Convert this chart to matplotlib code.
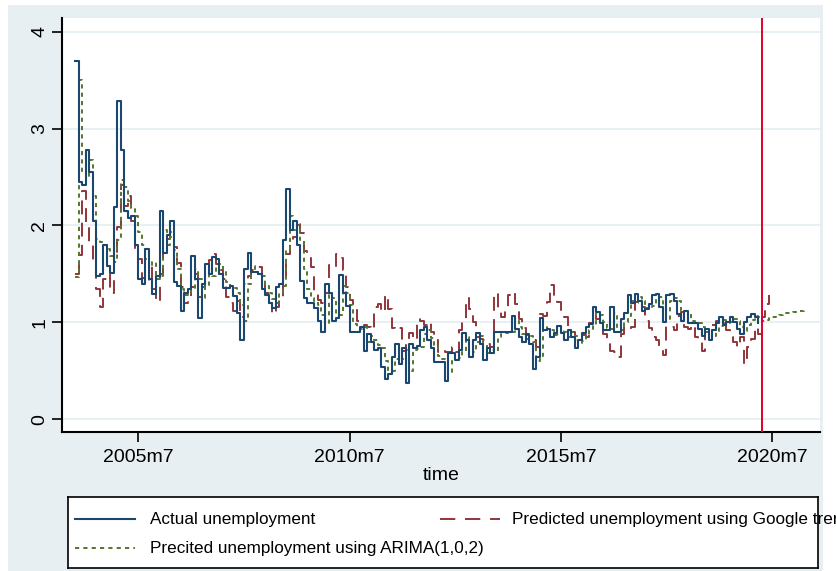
import numpy as np
import matplotlib.pyplot as plt
from matplotlib.patches import Rectangle
from matplotlib.lines import Line2D

plt.rcParams['font.family'] = ['Liberation Sans Narrow', 'Liberation Sans', 'DejaVu Sans']
plt.rcParams['lines.scale_dashes'] = False

# monthly series, first observation 2004m1
first_month = "2004m1"

actual = [
    3.70, 2.45, 2.42, 2.78, 2.55, 2.05, 1.48, 1.50, 1.80, 1.58, 1.51, 2.19,  # 2004
    3.28, 2.78, 2.15, 2.08, 2.10, 1.80, 1.45, 1.40, 1.76, 1.45, 1.29, 1.48,  # 2005
    2.15, 1.72, 1.90, 2.05, 1.42, 1.38, 1.12, 1.30, 1.35, 1.69, 1.45, 1.05,  # 2006
    1.40, 1.60, 1.50, 1.67, 1.65, 1.50, 1.36, 1.36, 1.38, 1.27, 1.10, 0.82,  # 2007
    1.55, 1.72, 1.52, 1.52, 1.50, 1.35, 1.28, 1.20, 1.15, 1.37, 1.40, 1.85,  # 2008
    2.38, 1.95, 2.05, 1.80, 1.43, 1.25, 1.20, 1.20, 1.15, 1.02, 0.90, 1.40,  # 2009
    1.30, 1.02, 1.05, 1.49, 1.30, 1.17, 0.90, 0.90, 0.90, 0.95, 0.71, 0.88,  # 2010
    0.80, 0.72, 0.74, 0.54, 0.42, 0.47, 0.64, 0.78, 0.57, 0.74, 0.38, 0.78,  # 2011
    0.74, 0.76, 0.92, 0.95, 0.82, 0.74, 0.59, 0.59, 0.59, 0.40, 0.68, 0.68,  # 2012
    0.61, 0.72, 0.89, 0.82, 0.64, 0.82, 0.89, 0.78, 0.61, 0.74, 0.68, 0.90,  # 2013
    0.90, 0.90, 0.90, 0.90, 1.07, 0.93, 0.85, 0.80, 0.88, 0.78, 0.52, 0.64,  # 2014
    1.05, 0.92, 0.93, 0.85, 0.89, 0.96, 0.89, 0.82, 0.92, 0.85, 0.74, 0.82,  # 2015
    0.89, 0.95, 0.98, 1.16, 1.11, 0.99, 0.92, 0.92, 1.16, 0.90, 0.90, 1.04,  # 2016
    1.10, 1.28, 1.20, 1.29, 1.22, 1.12, 1.14, 1.19, 1.28, 1.29, 1.16, 1.00,  # 2017
    1.28, 1.29, 1.22, 1.09, 1.02, 1.12, 0.99, 0.99, 0.99, 0.93, 0.86, 0.93,  # 2018
    0.82, 0.92, 0.99, 1.06, 0.97, 1.00, 1.06, 1.00, 0.93, 0.88, 1.00, 1.06,  # 2019
    1.09, 1.06, 0.99,                                                      # 2020
]

google = [
    1.50, 1.70, 2.36, 2.00, 1.80, 1.60, 1.34, 1.16, 1.45, 1.50, 1.30, 1.65,
    1.98, 2.42, 2.20, 2.30, 2.05, 1.76, 1.65, 1.46, 1.40, 1.60, 1.34, 1.21,
    1.50, 1.80, 1.86, 1.93, 1.78, 1.61, 1.37, 1.20, 1.26, 1.37, 1.50, 1.26,
    1.37, 1.50, 1.64, 1.71, 1.60, 1.54, 1.45, 1.26, 1.20, 1.12, 1.22, 1.06,
    1.40, 1.48, 1.54, 1.54, 1.57, 1.45, 1.30, 1.20, 1.09, 1.16, 1.23, 1.44,
    1.71, 1.81, 1.88, 2.02, 1.92, 1.74, 1.66, 1.57, 1.30, 1.23, 1.20, 1.30,
    1.59, 1.57, 1.71, 1.66, 1.54, 1.37, 1.23, 1.13, 1.02, 0.95, 0.97, 0.95,
    0.92, 1.16, 1.19, 1.11, 1.28, 1.14, 0.94, 0.92, 0.94, 0.71, 0.78, 0.89,
    0.82, 1.04, 1.02, 0.97, 1.00, 0.90, 0.82, 0.70, 0.72, 0.70, 0.69, 0.75,
    0.70, 0.92, 1.04, 1.25, 1.14, 1.00, 0.85, 0.83, 0.82, 0.78, 0.75, 1.30,
    1.13, 1.06, 1.16, 1.28, 1.31, 1.19, 1.04, 0.94, 0.87, 0.82, 0.82, 0.75,
    1.09, 1.07, 1.21, 1.39, 1.28, 1.21, 1.13, 1.06, 0.92, 0.90, 0.82, 0.83,
    0.87, 0.85, 0.99, 1.11, 1.04, 0.95, 0.88, 0.78, 0.71, 0.70, 0.64, 0.88,
    0.95, 0.93, 0.95, 1.21, 1.23, 1.16, 1.02, 0.94, 0.85, 0.82, 0.75, 0.66,
    0.96, 0.95, 0.92, 1.07, 1.11, 0.95, 0.93, 0.97, 0.85, 0.82, 0.71, 0.90,
    0.97, 0.97, 1.02, 1.04, 0.99, 0.92, 0.85, 0.80, 0.75, 0.85, 0.57, 0.75,
    0.83, 0.95, 0.88, 1.06, 1.19, 1.28,
]

arima = [
    1.47, 3.50, 2.55, 2.50, 2.68, 2.30, 1.86, 1.83, 1.80, 1.76, 1.69, 1.62,
    1.85, 2.47, 2.40, 2.25, 2.18, 2.10, 1.93, 1.80, 1.65, 1.58, 1.62, 1.45,
    1.48, 1.95, 1.80, 1.88, 1.75, 1.55, 1.35, 1.28, 1.30, 1.35, 1.55, 1.45,
    1.25, 1.38, 1.50, 1.48, 1.58, 1.60, 1.52, 1.42, 1.38, 1.36, 1.30, 1.18,
    1.02, 1.40, 1.58, 1.52, 1.50, 1.48, 1.38, 1.30, 1.24, 1.20, 1.30, 1.38,
    1.75, 2.10, 1.95, 2.00, 1.85, 1.55, 1.35, 1.25, 1.22, 1.18, 1.08, 0.98,
    1.28, 1.25, 1.08, 1.08, 1.38, 1.30, 1.18, 0.98, 0.95, 0.93, 0.95, 0.80,
    0.86, 0.82, 0.77, 0.74, 0.60, 0.50, 0.50, 0.62, 0.74, 0.62, 0.72, 0.50,
    0.72, 0.73, 0.75, 0.88, 0.92, 0.84, 0.77, 0.65, 0.62, 0.61, 0.48, 0.63,
    0.66, 0.63, 0.70, 0.85, 0.82, 0.70, 0.80, 0.86, 0.78, 0.68, 0.72, 0.70,
    0.85, 0.88, 0.89, 0.90, 0.90, 1.01, 0.95, 0.88, 0.83, 0.86, 0.80, 0.60,
    0.65, 0.95, 0.92, 0.92, 0.87, 0.88, 0.93, 0.90, 0.85, 0.90, 0.86, 0.78,
    0.81, 0.86, 0.92, 0.96, 1.10, 1.08, 1.00, 0.94, 0.93, 1.10, 0.94, 0.92,
    1.00, 1.07, 1.22, 1.20, 1.26, 1.22, 1.15, 1.14, 1.17, 1.25, 1.26, 1.18,
    1.04, 1.22, 1.25, 1.22, 1.12, 1.06, 1.10, 1.02, 1.00, 0.99, 0.95, 0.90,
    0.92, 0.86, 0.90, 0.96, 1.03, 0.99, 1.00, 1.04, 1.01, 0.95, 0.91, 0.97,
    1.03, 1.07, 1.06, 1.02, 1.03, 1.05, 1.06, 1.07, 1.08, 1.09, 1.10, 1.10,
    1.11, 1.12, 1.12, 1.13,
]

tick_labels = ["2005m7", "2010m7", "2015m7", "2020m7"]
yticks = [0, 1, 2, 3, 4]
cutoff = "2020m4"

legend_labels = ["Actual unemployment",
                 "Predicted unemployment using Google trends",
                 "Precited unemployment using ARIMA(1,0,2)"]


def month_num(s):
    y, m = s.split("m")
    return int(y) * 12 + int(m) - 1


t0 = month_num(first_month)
t_act = t0 + np.arange(len(actual))
t_goo = t0 + np.arange(len(google))
t_ari = t0 + np.arange(len(arima))

navy = "#1a476f"
maroon = "#90353b"
green = "#55752f"
bg = "#e8eff2"

fig = plt.figure(figsize=(8.36, 5.71), dpi=100)
fig.patch.set_facecolor("white")

# shaded graph region behind everything
back = fig.add_axes([0, 0, 1, 1], zorder=-10)
back.axis("off")
back.add_patch(Rectangle((8 / 836, 0), 815 / 836, 566 / 571, facecolor=bg,
                         edgecolor="none", transform=back.transAxes))

ax = fig.add_axes([62 / 836, 139 / 571, 758 / 836, 414 / 571])
ax.set_facecolor("white")

ax.plot(t_act, actual, color=navy, lw=1.5, drawstyle="steps-post", zorder=3)
ax.plot(t_goo, google, color=maroon, lw=1.4, drawstyle="steps-post",
        dashes=(10, 6), zorder=2)
ax.plot(t_ari, arima, color=green, lw=1.4, drawstyle="steps-post",
        dashes=(3, 3), zorder=2)
ax.axvline(month_num(cutoff), color="#e0002b", lw=1.4, zorder=4)

ax.set_xlim(t0 - 3.7, t0 + 211.6)
ax.set_ylim(-0.13, 4.14)
ax.set_xticks([month_num(s) for s in tick_labels])
ax.set_xticklabels(tick_labels, fontsize=14)
ax.set_yticks(yticks)
ax.set_yticklabels([str(v) for v in yticks], fontsize=14, rotation=90, va="center")
ax.tick_params(axis="both", direction="out", length=7, width=1.2, color="black")
ax.tick_params(axis="x", pad=5)
ax.tick_params(axis="y", pad=3)
ax.grid(axis="y", color="#e3eef1", lw=1.2)
ax.set_axisbelow(True)
for side in ["top", "right"]:
    ax.spines[side].set_visible(False)
for side in ["left", "bottom"]:
    ax.spines[side].set_linewidth(1.5)
ax.set_xlabel("time", fontsize=14, labelpad=1)

# legend box drawn by hand so the long label runs past the frame
lg = fig.add_axes([68 / 836, 3 / 571, 750 / 836, 71 / 571])
lg.set_xlim(0, 1)
lg.set_ylim(0, 1)
lg.set_xticks([])
lg.set_yticks([])
lg.set_facecolor("white")
for s in lg.spines.values():
    s.set_linewidth(1.2)
lg.add_line(Line2D([0.009, 0.089], [0.69, 0.69], color=navy, lw=1.5))
lg.add_line(Line2D([0.496, 0.576], [0.69, 0.69], color=maroon, lw=1.4, dashes=(11, 7)))
lg.add_line(Line2D([0.009, 0.089], [0.28, 0.28], color=green, lw=1.4, dashes=(3, 3)))
lg.text(0.109, 0.69, legend_labels[0], fontsize=12.3, va="center")
lg.text(0.592, 0.69, legend_labels[1], fontsize=12.3, va="center", clip_on=False)
lg.text(0.109, 0.28, legend_labels[2], fontsize=12.3, va="center")

fig.savefig("out.png", dpi=100, facecolor=fig.get_facecolor())
